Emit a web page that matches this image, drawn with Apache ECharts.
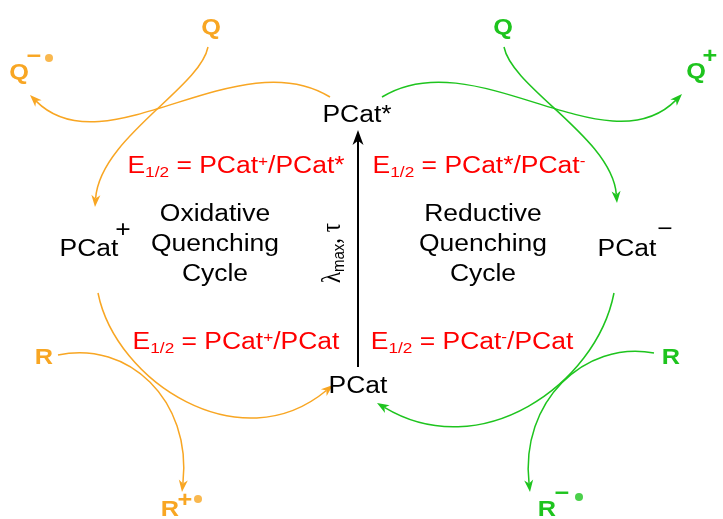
<!DOCTYPE html>
<html>
<head>
<meta charset="utf-8">
<script src="https://cdn.jsdelivr.net/npm/echarts@6/dist/echarts.min.js"></script>
<style>
html, body { margin: 0; padding: 0; background: #fff; }
#main { width: 723px; height: 519px; }
</style>
</head>
<body>
<div id="main"></div>
<script>
// diagram space = 723 x 519, y grows downward
// curves: [x0, y0, cp1x, cp1y, cp2x, cp2y, x1, y1] (arrow at x1, y1)
const oxidativeCurves = [
  [330, 97, 238, 40, 105, 170, 30, 95],
  [208, 47, 200, 88, 100, 138, 95, 207],
  [98, 293, 116, 382, 240, 462, 333, 385],
  [58, 355, 128, 340, 192, 400, 182, 492]
]
const reductiveCurves = [
  [382, 97, 474, 40, 607, 170, 682, 94],
  [504, 47, 512, 88, 612, 138, 617, 203],
  [614, 293, 596, 385, 480, 465, 377, 403],
  [654, 353, 584, 340, 520, 402, 530, 492]
]
const excitationArrow = [
  [358, 367, 358, 300, 358, 200, 358, 130]
]

// labels: [text, x, y]
const blackLabels = [
  ['PCat*', 357, 116],
  ['PCat', 358, 387],
  ['PCat', 89, 250],
  ['+', 123, 231],
  ['PCat', 627, 250],
  ['\u2212', 665, 230],
  ['Oxidative', 215, 215],
  ['Quenching', 215, 245],
  ['Cycle', 215, 275],
  ['Reductive', 483, 215],
  ['Quenching', 483, 245],
  ['Cycle', 483, 275]
]
const redLabels = [
  ['{e|E}{sub|1/2}{n| = PCat}{sup|+}{n|/PCat*}', 236, 167],
  ['{e|E}{sub|1/2}{n| = PCat*/PCat}{sup|-}', 479, 167],
  ['{e|E}{sub|1/2}{n| = PCat}{sup|+}{n|/PCat}', 236, 343],
  ['{e|E}{sub|1/2}{n| = PCat}{sup|-}{n|/PCat}', 472, 343]
]
const orangeLabels = [
  ['Q', 211, 28],
  ['Q', 19, 73],
  ['\u2212', 34, 57],
  ['R', 44, 358],
  ['R', 170, 510],
  ['+', 185, 501]
]
const greenLabels = [
  ['Q', 503, 28],
  ['Q', 696, 72],
  ['+', 710, 57],
  ['R', 671, 358],
  ['R', 547, 510],
  ['\u2212', 562, 494]
]
const lambdaLabel = [['{l|\u03bb}{s|max}{l|, \u03c4}', 333, 253]]
const orangeDots = [[49, 58], [198, 499]]
const greenDots = [[579, 497]]

const ORANGE = '#F8A623'
const GREEN = '#1EC41E'
const RED = '#FF0000'
const SANS = '"Liberation Sans", Arial, sans-serif'
const STRETCH = 1.15

function curveSeries (data, color, width, headLen, headWid) {
  return {
    type: 'custom',
    coordinateSystem: 'cartesian2d',
    clip: false,
    silent: true,
    encode: { x: [0, 2, 4, 6], y: [1, 3, 5, 7] },
    data: data,
    renderItem (params, api) {
      const p = [0, 1, 2, 3].map(i => api.coord([api.value(i * 2), api.value(i * 2 + 1)]))
      const dx = p[3][0] - p[2][0]
      const dy = p[3][1] - p[2][1]
      const len = Math.hypot(dx, dy) || 1
      const ux = dx / len
      const uy = dy / len
      const tip = p[3]
      const bx = tip[0] - ux * headLen
      const by = tip[1] - uy * headLen
      const nx = tip[0] - ux * headLen * 0.72
      const ny = tip[1] - uy * headLen * 0.72
      return {
        type: 'group',
        children: [
          {
            type: 'bezierCurve',
            shape: {
              x1: p[0][0], y1: p[0][1],
              cpx1: p[1][0], cpy1: p[1][1],
              cpx2: p[2][0], cpy2: p[2][1],
              x2: nx, y2: ny
            },
            style: { stroke: color, lineWidth: width, fill: null }
          },
          {
            type: 'polygon',
            shape: { points: [tip, [bx - uy * headWid, by + ux * headWid], [nx, ny], [bx + uy * headWid, by - ux * headWid]] },
            style: { fill: color }
          }
        ]
      }
    }
  }
}

function textSeries (labels, style, rotation) {
  return {
    type: 'custom',
    coordinateSystem: 'cartesian2d',
    clip: false,
    silent: true,
    data: labels.map(l => [l[1], l[2]]),
    renderItem (params, api) {
      const pt = api.coord([api.value(0), api.value(1)])
      return {
        type: 'text',
        x: pt[0],
        y: pt[1],
        rotation: rotation || 0,
        scaleX: rotation ? 1 : STRETCH,
        scaleY: rotation ? STRETCH : 1,
        style: Object.assign({
          text: labels[params.dataIndex][0],
          x: 0,
          y: 0,
          align: 'center',
          verticalAlign: 'middle'
        }, style)
      }
    }
  }
}

const redRich = {
  e: { fontSize: 23, fontFamily: SANS, fill: RED, lineHeight: 26, verticalAlign: 'middle' },
  n: { fontSize: 23, fontFamily: SANS, fill: RED, lineHeight: 26, verticalAlign: 'middle' },
  sub: { fontSize: 15, fontFamily: SANS, fill: RED, lineHeight: 14, verticalAlign: 'bottom' },
  sup: { fontSize: 15, fontFamily: SANS, fill: RED, lineHeight: 13, verticalAlign: 'top' }
}
const lambdaRich = {
  l: { fontSize: 23, fontFamily: '"Liberation Serif", "DejaVu Serif", serif', fill: '#000', lineHeight: 26, verticalAlign: 'middle' },
  s: { fontSize: 15, fontFamily: SANS, fill: '#000', lineHeight: 14, verticalAlign: 'bottom' }
}

const chart = echarts.init(document.getElementById('main'))
chart.setOption({
  animation: false,
  backgroundColor: '#fff',
  grid: { left: 0, right: 0, top: 0, bottom: 0 },
  xAxis: { type: 'value', min: 0, max: 723, show: false },
  yAxis: { type: 'value', min: 0, max: 519, inverse: true, show: false },
  series: [
    curveSeries(oxidativeCurves, ORANGE, 1.5, 12, 4.5),
    curveSeries(reductiveCurves, GREEN, 1.5, 12, 4.5),
    curveSeries(excitationArrow, '#000', 2, 15, 5.5),
    textSeries(blackLabels, { fontSize: 23, fontFamily: SANS, fill: '#000' }),
    textSeries(orangeLabels, { fontSize: 22, fontWeight: 'bold', fontFamily: SANS, fill: ORANGE }),
    textSeries(greenLabels, { fontSize: 22, fontWeight: 'bold', fontFamily: SANS, fill: GREEN }),
    textSeries(redLabels, { rich: redRich }),
    textSeries(lambdaLabel, { rich: lambdaRich }, Math.PI / 2),
    {
      type: 'scatter',
      silent: true,
      symbol: 'circle',
      symbolSize: 8,
      itemStyle: { color: ORANGE },
      data: orangeDots
    },
    {
      type: 'scatter',
      silent: true,
      symbol: 'circle',
      symbolSize: 8,
      itemStyle: { color: GREEN },
      data: greenDots
    }
  ]
})
</script>
</body>
</html>
